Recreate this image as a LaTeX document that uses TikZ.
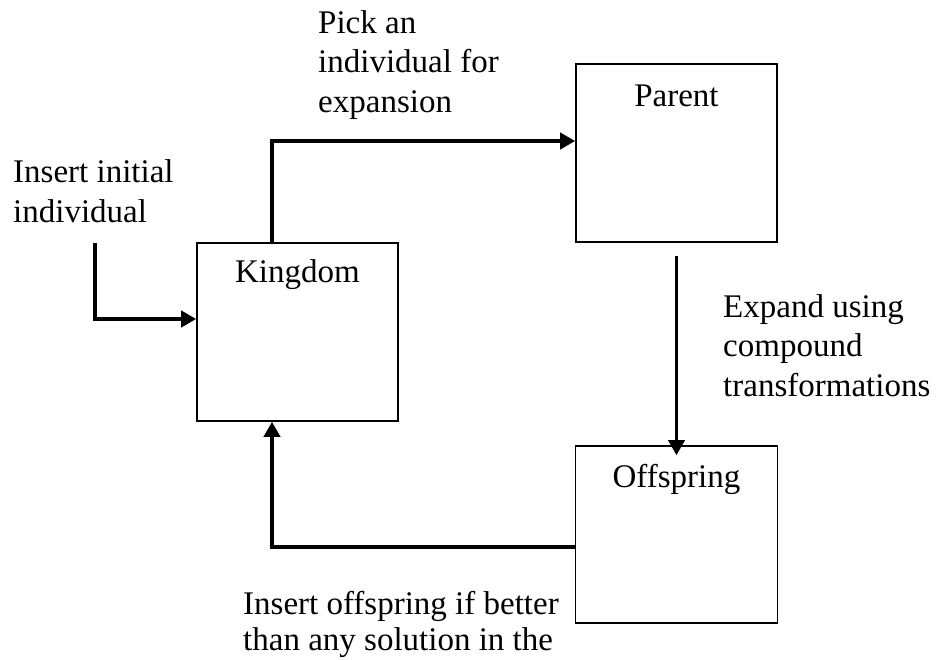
\documentclass[tikz,border=0pt]{standalone}
\usepackage{fontspec}
\setmainfont{Liberation Serif}
\usetikzlibrary{arrows.meta}
\begin{document}
\begin{tikzpicture}[x=1pt,y=-1pt,
  box/.style={draw=black, line width=1.6pt, fill=none, inner sep=0pt},
  arr/.style={draw=black, line width=3.8pt, -{Triangle[length=15pt,width=16pt]}},
  lbl/.style={font=\fontsize{33}{39.5}\selectfont, align=left, inner sep=0pt},
  title/.style={font=\fontsize{33}{36}\selectfont, inner sep=0pt, anchor=base}]
\useasboundingbox (0,0) rectangle (937,659);
\fill[white] (0,0) rectangle (937,659);
% boxes
\node[box, minimum width=201pt, minimum height=178pt] (K) at (297.5,332) {};
\node[box, minimum width=201pt, minimum height=178pt] (P) at (676.5,153) {};
\node[box, minimum width=202pt, minimum height=177pt] (O) at (676.5,534.5) {};
% box titles
\node[title] (Kt) at ([yshift=-40pt]K.north) {Kingdom};
\node[title] (Pt) at ([yshift=-43pt]P.north) {Parent};
\node[title] (Ot) at ([yshift=-42pt]O.north) {Offspring};
% free end
\coordinate (ins) at (95,243);
% connectors
\draw[arr] (ins) |- ([yshift=13pt]K.west);
\draw[arr] ([xshift=-25.5pt]K.north) |- ([yshift=12pt]P.west);
\draw[arr] ([yshift=-13pt]P.south) -- ([yshift=-10pt]O.north);
\draw[arr] ([yshift=-12.5pt]O.west) -| ([xshift=-25.5pt]K.south);
% labels (anchored at the baseline of the last line)
\node[lbl, anchor=base west] (l1) at (13,222) {Insert initial\\individual};
\node[lbl, anchor=base west] (l2) at (318,112) {Pick an\\individual for\\expansion};
\node[lbl, anchor=base west] (l3) at (723,396) {Expand using\\compound\\transformations};
\node[lbl, anchor=base west, font=\fontsize{33}{36}\selectfont] (l4) at (243,650) {Insert offspring if better\\than any solution in the};
\end{tikzpicture}
\end{document}
